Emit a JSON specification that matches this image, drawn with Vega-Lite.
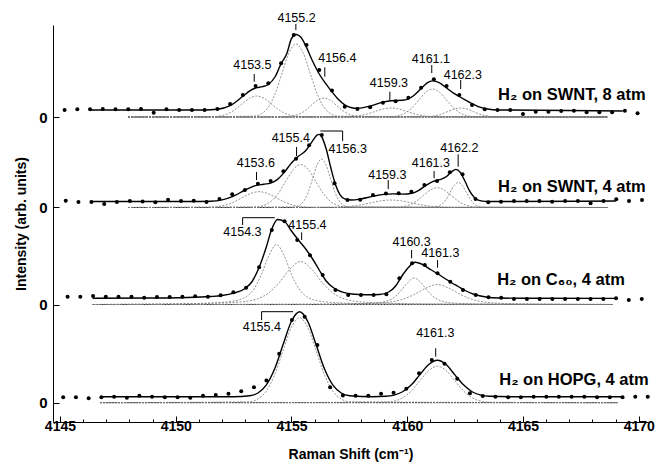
{
"$schema":"https://vega.github.io/schema/vega-lite/v6.json",
"width":595,"height":397,
"autosize":{"type":"none"},
"padding":{"left":53,"top":25,"right":17,"bottom":42},
"background":"white",
"config":{"view":{"stroke":null}},
"datasets":{
"dots":[
{"s":1,"x":4145.2,"y":312},{"s":1,"x":4145.75,"y":312.7},{"s":1,"x":4146.3,"y":312.7},{"s":1,"x":4146.85,"y":313},{"s":1,"x":4147.4,"y":312.7},{"s":1,"x":4147.95,"y":312.7},{"s":1,"x":4148.5,"y":313},{"s":1,"x":4149.05,"y":309.3},{"s":1,"x":4149.6,"y":312.7},{"s":1,"x":4150.15,"y":312},{"s":1,"x":4150.7,"y":312},{"s":1,"x":4151.25,"y":312},{"s":1,"x":4151.8,"y":313},{"s":1,"x":4152.35,"y":318},{"s":1,"x":4152.9,"y":327},{"s":1,"x":4153.45,"y":336},{"s":1,"x":4154.0,"y":338.7},{"s":1,"x":4154.55,"y":358.7},{"s":1,"x":4155.1,"y":387},{"s":1,"x":4155.65,"y":377},{"s":1,"x":4156.2,"y":352},{"s":1,"x":4156.75,"y":331.5},{"s":1,"x":4157.3,"y":315.3},{"s":1,"x":4157.85,"y":313},{"s":1,"x":4158.4,"y":314.7},{"s":1,"x":4158.95,"y":319.3},{"s":1,"x":4159.5,"y":320.7},{"s":1,"x":4160.05,"y":324.3},{"s":1,"x":4160.6,"y":334.3},{"s":1,"x":4161.15,"y":342.7},{"s":1,"x":4161.7,"y":336},{"s":1,"x":4162.25,"y":327},{"s":1,"x":4162.8,"y":317},{"s":1,"x":4163.35,"y":312.7},{"s":1,"x":4163.9,"y":312},{"s":1,"x":4164.45,"y":312},{"s":1,"x":4165.0,"y":308},{"s":1,"x":4165.55,"y":310.3},{"s":1,"x":4166.1,"y":310.3},{"s":1,"x":4166.65,"y":311},{"s":1,"x":4167.2,"y":311.3},{"s":1,"x":4167.75,"y":309.7},{"s":1,"x":4168.3,"y":309.7},{"s":1,"x":4168.85,"y":309.7},{"s":1,"x":4169.4,"y":311.3},{"s":1,"x":4169.95,"y":308.7},
{"s":2,"x":4145.25,"y":221.3},{"s":2,"x":4145.8,"y":220},{"s":2,"x":4146.36,"y":220},{"s":2,"x":4146.91,"y":218},{"s":2,"x":4147.46,"y":220},{"s":2,"x":4148.02,"y":221},{"s":2,"x":4148.57,"y":220.5},{"s":2,"x":4149.12,"y":219.7},{"s":2,"x":4149.67,"y":222.3},{"s":2,"x":4150.23,"y":221},{"s":2,"x":4150.78,"y":221.2},{"s":2,"x":4151.33,"y":220},{"s":2,"x":4151.89,"y":223},{"s":2,"x":4152.44,"y":227.7},{"s":2,"x":4152.99,"y":232},{"s":2,"x":4153.55,"y":238.3},{"s":2,"x":4154.1,"y":241},{"s":2,"x":4154.65,"y":250.7},{"s":2,"x":4155.2,"y":263.2},{"s":2,"x":4155.76,"y":276.7},{"s":2,"x":4156.31,"y":287},{"s":2,"x":4156.86,"y":238.7},{"s":2,"x":4157.42,"y":222},{"s":2,"x":4157.97,"y":222.3},{"s":2,"x":4158.52,"y":227},{"s":2,"x":4159.08,"y":228.5},{"s":2,"x":4159.63,"y":228.8},{"s":2,"x":4160.18,"y":230.3},{"s":2,"x":4160.74,"y":237},{"s":2,"x":4161.29,"y":241},{"s":2,"x":4161.84,"y":249.7},{"s":2,"x":4162.39,"y":247.7},{"s":2,"x":4162.95,"y":223},{"s":2,"x":4163.5,"y":219.7},{"s":2,"x":4164.05,"y":220.3},{"s":2,"x":4164.61,"y":221},{"s":2,"x":4165.16,"y":221},{"s":2,"x":4165.71,"y":221},{"s":2,"x":4166.26,"y":220.3},{"s":2,"x":4166.82,"y":221},{"s":2,"x":4167.37,"y":221},{"s":2,"x":4167.92,"y":218.7},{"s":2,"x":4168.48,"y":221},{"s":2,"x":4169.03,"y":222.7},{"s":2,"x":4169.58,"y":221},{"s":2,"x":4170.14,"y":222},
{"s":3,"x":4145.33,"y":125.3},{"s":3,"x":4145.88,"y":125.3},{"s":3,"x":4146.43,"y":126},{"s":3,"x":4146.98,"y":125.3},{"s":3,"x":4147.53,"y":125.3},{"s":3,"x":4148.09,"y":125.3},{"s":3,"x":4148.64,"y":124.3},{"s":3,"x":4149.19,"y":125},{"s":3,"x":4149.74,"y":125},{"s":3,"x":4150.29,"y":125.2},{"s":3,"x":4150.84,"y":125.7},{"s":3,"x":4151.39,"y":125.2},{"s":3,"x":4151.94,"y":126.8},{"s":3,"x":4152.49,"y":129.7},{"s":3,"x":4153.04,"y":134.3},{"s":3,"x":4153.6,"y":154.7},{"s":3,"x":4154.15,"y":192},{"s":3,"x":4154.7,"y":200.7},{"s":3,"x":4155.25,"y":182},{"s":3,"x":4155.8,"y":166.7},{"s":3,"x":4156.35,"y":147},{"s":3,"x":4156.9,"y":132},{"s":3,"x":4157.45,"y":127},{"s":3,"x":4158.0,"y":127},{"s":3,"x":4158.55,"y":127},{"s":3,"x":4159.1,"y":127.7},{"s":3,"x":4159.66,"y":143.7},{"s":3,"x":4160.21,"y":158.7},{"s":3,"x":4160.76,"y":157},{"s":3,"x":4161.31,"y":148.7},{"s":3,"x":4161.86,"y":140.3},{"s":3,"x":4162.41,"y":132},{"s":3,"x":4162.96,"y":127},{"s":3,"x":4163.51,"y":124.8},{"s":3,"x":4164.06,"y":124.3},{"s":3,"x":4164.61,"y":123},{"s":3,"x":4165.17,"y":123},{"s":3,"x":4165.72,"y":123},{"s":3,"x":4166.27,"y":123},{"s":3,"x":4166.82,"y":123},{"s":3,"x":4167.37,"y":123},{"s":3,"x":4167.92,"y":123},{"s":3,"x":4168.47,"y":123},{"s":3,"x":4169.02,"y":123.7},{"s":3,"x":4169.57,"y":122},{"s":3,"x":4170.13,"y":123},
{"s":4,"x":4145.14,"y":24.7},{"s":4,"x":4145.69,"y":24.7},{"s":4,"x":4146.24,"y":23.7},{"s":4,"x":4146.79,"y":24.7},{"s":4,"x":4147.34,"y":25.3},{"s":4,"x":4147.89,"y":24.3},{"s":4,"x":4148.43,"y":26.3},{"s":4,"x":4148.98,"y":25.3},{"s":4,"x":4149.53,"y":24.7},{"s":4,"x":4150.08,"y":24.7},{"s":4,"x":4150.63,"y":24.3},{"s":4,"x":4151.18,"y":26.3},{"s":4,"x":4151.73,"y":27},{"s":4,"x":4152.28,"y":28.2},{"s":4,"x":4152.83,"y":30.7},{"s":4,"x":4153.38,"y":34.7},{"s":4,"x":4153.92,"y":41.5},{"s":4,"x":4154.47,"y":68.3},{"s":4,"x":4155.02,"y":102},{"s":4,"x":4155.57,"y":105.3},{"s":4,"x":4156.12,"y":77},{"s":4,"x":4156.67,"y":34.7},{"s":4,"x":4157.22,"y":26.5},{"s":4,"x":4157.77,"y":26.2},{"s":4,"x":4158.32,"y":26.2},{"s":4,"x":4158.87,"y":28.2},{"s":4,"x":4159.41,"y":29.3},{"s":4,"x":4159.96,"y":33.3},{"s":4,"x":4160.51,"y":48.7},{"s":4,"x":4161.06,"y":62},{"s":4,"x":4161.61,"y":58.2},{"s":4,"x":4162.16,"y":43.3},{"s":4,"x":4162.71,"y":28.7},{"s":4,"x":4163.26,"y":26},{"s":4,"x":4163.81,"y":25.3},{"s":4,"x":4164.36,"y":24.7},{"s":4,"x":4164.91,"y":24.7},{"s":4,"x":4165.46,"y":25.3},{"s":4,"x":4166.01,"y":25.3},{"s":4,"x":4166.55,"y":25.3},{"s":4,"x":4167.1,"y":25.3},{"s":4,"x":4167.65,"y":25.3},{"s":4,"x":4168.2,"y":24.7},{"s":4,"x":4168.75,"y":24.7},{"s":4,"x":4169.3,"y":24.7},{"s":4,"x":4169.85,"y":25.3},{"s":4,"x":4170.39,"y":25.3}
],
"fit":[
{"s":1,"x":4146.3,"y":312},{"s":1,"x":4151.25,"y":312},{"s":1,"x":4151.8,"y":312.7},{"s":1,"x":4152.35,"y":316.4},{"s":1,"x":4152.9,"y":325.7},{"s":1,"x":4153.2,"y":331.2},{"s":1,"x":4153.45,"y":334},{"s":1,"x":4153.75,"y":335.4},{"s":1,"x":4154.0,"y":337.5},{"s":1,"x":4154.3,"y":345.5},{"s":1,"x":4154.55,"y":358.3},{"s":1,"x":4154.8,"y":368.5},{"s":1,"x":4155.0,"y":383.3},{"s":1,"x":4155.2,"y":387.5},{"s":1,"x":4155.4,"y":385},{"s":1,"x":4155.65,"y":374.6},{"s":1,"x":4155.9,"y":361.5},{"s":1,"x":4156.2,"y":348},{"s":1,"x":4156.45,"y":339.3},{"s":1,"x":4156.75,"y":330.1},{"s":1,"x":4157.0,"y":323.3},{"s":1,"x":4157.3,"y":317.2},{"s":1,"x":4157.6,"y":314.3},{"s":1,"x":4157.85,"y":313.7},{"s":1,"x":4158.4,"y":315.9},{"s":1,"x":4158.95,"y":319.9},{"s":1,"x":4159.3,"y":321.3},{"s":1,"x":4159.8,"y":321.7},{"s":1,"x":4160.05,"y":323.1},{"s":1,"x":4160.3,"y":326.7},{"s":1,"x":4160.6,"y":333.4},{"s":1,"x":4160.85,"y":338.8},{"s":1,"x":4161.1,"y":341.1},{"s":1,"x":4161.4,"y":339.1},{"s":1,"x":4161.7,"y":334},{"s":1,"x":4162.0,"y":328.9},{"s":1,"x":4162.25,"y":325.5},{"s":1,"x":4162.5,"y":322.2},{"s":1,"x":4162.8,"y":318.4},{"s":1,"x":4163.1,"y":315.1},{"s":1,"x":4163.35,"y":313.5},{"s":1,"x":4163.7,"y":312.3},{"s":1,"x":4164.5,"y":312},{"s":1,"x":4169.31,"y":311},
{"s":2,"x":4146.3,"y":220.5},{"s":2,"x":4150.5,"y":220.5},{"s":2,"x":4151.5,"y":220.8},{"s":2,"x":4152.0,"y":222.1},{"s":2,"x":4152.5,"y":225.9},{"s":2,"x":4153.0,"y":232},{"s":2,"x":4153.4,"y":236.1},{"s":2,"x":4153.8,"y":237.8},{"s":2,"x":4154.1,"y":238.9},{"s":2,"x":4154.4,"y":242.6},{"s":2,"x":4154.7,"y":250},{"s":2,"x":4155.0,"y":259},{"s":2,"x":4155.3,"y":265.7},{"s":2,"x":4155.6,"y":270.9},{"s":2,"x":4155.9,"y":280.6},{"s":2,"x":4156.1,"y":286.8},{"s":2,"x":4156.2,"y":287.6},{"s":2,"x":4156.3,"y":285.5},{"s":2,"x":4156.5,"y":273},{"s":2,"x":4156.7,"y":254.2},{"s":2,"x":4156.9,"y":237.5},{"s":2,"x":4157.1,"y":227.2},{"s":2,"x":4157.3,"y":223.2},{"s":2,"x":4157.6,"y":222},{"s":2,"x":4158.0,"y":223.1},{"s":2,"x":4158.5,"y":225.6},{"s":2,"x":4159.0,"y":227.6},{"s":2,"x":4159.4,"y":228.1},{"s":2,"x":4159.8,"y":227.9},{"s":2,"x":4160.2,"y":228.8},{"s":2,"x":4160.5,"y":231.7},{"s":2,"x":4160.8,"y":236.4},{"s":2,"x":4161.1,"y":240.4},{"s":2,"x":4161.4,"y":242.3},{"s":2,"x":4161.7,"y":245.5},{"s":2,"x":4161.9,"y":249.8},{"s":2,"x":4162.1,"y":252.6},{"s":2,"x":4162.3,"y":249.4},{"s":2,"x":4162.5,"y":240.5},{"s":2,"x":4162.7,"y":230.8},{"s":2,"x":4162.9,"y":224.5},{"s":2,"x":4163.1,"y":221.6},{"s":2,"x":4163.4,"y":220.6},{"s":2,"x":4164.0,"y":220.5},{"s":2,"x":4169.01,"y":221},
{"s":3,"x":4146.41,"y":123.8},{"s":3,"x":4149.0,"y":124},{"s":3,"x":4150.5,"y":124.5},{"s":3,"x":4151.5,"y":125.5},{"s":3,"x":4152.0,"y":126.5},{"s":3,"x":4152.5,"y":128.8},{"s":3,"x":4153.0,"y":133.5},{"s":3,"x":4153.3,"y":140.5},{"s":3,"x":4153.6,"y":154.5},{"s":3,"x":4153.9,"y":174},{"s":3,"x":4154.15,"y":193},{"s":3,"x":4154.4,"y":202.5},{"s":3,"x":4154.7,"y":200.5},{"s":3,"x":4155.0,"y":191},{"s":3,"x":4155.3,"y":182},{"s":3,"x":4155.6,"y":173.5},{"s":3,"x":4155.9,"y":163.5},{"s":3,"x":4156.2,"y":152},{"s":3,"x":4156.5,"y":141},{"s":3,"x":4156.8,"y":134.5},{"s":3,"x":4157.2,"y":129.8},{"s":3,"x":4157.6,"y":128},{"s":3,"x":4158.2,"y":127.3},{"s":3,"x":4158.8,"y":127.5},{"s":3,"x":4159.2,"y":130},{"s":3,"x":4159.5,"y":136},{"s":3,"x":4159.8,"y":147},{"s":3,"x":4160.05,"y":154.5},{"s":3,"x":4160.35,"y":159.7},{"s":3,"x":4160.7,"y":157},{"s":3,"x":4161.0,"y":152.5},{"s":3,"x":4161.3,"y":148.5},{"s":3,"x":4161.6,"y":144},{"s":3,"x":4161.9,"y":139.5},{"s":3,"x":4162.2,"y":135.5},{"s":3,"x":4162.5,"y":131.5},{"s":3,"x":4162.9,"y":127.5},{"s":3,"x":4163.4,"y":125},{"s":3,"x":4164.0,"y":124},{"s":3,"x":4165.0,"y":123.7},{"s":3,"x":4168.96,"y":123.6},
{"s":4,"x":4146.8,"y":25.3},{"s":4,"x":4152.5,"y":25.3},{"s":4,"x":4153.19,"y":26.2},{"s":4,"x":4153.55,"y":29.0},{"s":4,"x":4153.91,"y":36.8},{"s":4,"x":4154.27,"y":52.9},{"s":4,"x":4154.63,"y":76.9},{"s":4,"x":4154.99,"y":100.3},{"s":4,"x":4155.35,"y":110.3},{"s":4,"x":4155.71,"y":100.3},{"s":4,"x":4156.07,"y":76.9},{"s":4,"x":4156.43,"y":52.9},{"s":4,"x":4156.79,"y":36.8},{"s":4,"x":4157.15,"y":29.0},{"s":4,"x":4157.51,"y":26.2},{"s":4,"x":4158.5,"y":25.3},{"s":4,"x":4159.05,"y":25.7},{"s":4,"x":4159.43,"y":26.9},{"s":4,"x":4159.8,"y":30.24},{"s":4,"x":4160.18,"y":37.15},{"s":4,"x":4160.55,"y":47.4},{"s":4,"x":4160.93,"y":57.5},{"s":4,"x":4161.3,"y":61.8},{"s":4,"x":4161.68,"y":57.5},{"s":4,"x":4162.05,"y":47.4},{"s":4,"x":4162.43,"y":37.15},{"s":4,"x":4162.8,"y":30.24},{"s":4,"x":4163.18,"y":26.9},{"s":4,"x":4163.55,"y":25.7},{"s":4,"x":4164.5,"y":25.3},{"s":4,"x":4169.25,"y":25.3}
],
"comp":[
{"c":"1A","x":4147.94,"y":305},{"c":"1A","x":4151.55,"y":305.23},{"c":"1A","x":4151.88,"y":305.92},{"c":"1A","x":4152.2,"y":307.84},{"c":"1A","x":4152.53,"y":311.82},{"c":"1A","x":4152.85,"y":317.74},{"c":"1A","x":4153.18,"y":323.53},{"c":"1A","x":4153.5,"y":326},{"c":"1A","x":4153.83,"y":323.53},{"c":"1A","x":4154.15,"y":317.74},{"c":"1A","x":4154.48,"y":311.82},{"c":"1A","x":4154.8,"y":307.84},{"c":"1A","x":4155.13,"y":305.92},{"c":"1A","x":4155.45,"y":305.23},{"c":"1A","x":4168.66,"y":305},
{"c":"1B","x":4147.94,"y":305},{"c":"1B","x":4153.4,"y":305.81},{"c":"1B","x":4153.7,"y":308.2},{"c":"1B","x":4154.0,"y":314.88},{"c":"1B","x":4154.3,"y":328.7},{"c":"1B","x":4154.6,"y":349.27},{"c":"1B","x":4154.9,"y":369.42},{"c":"1B","x":4155.2,"y":378},{"c":"1B","x":4155.5,"y":369.42},{"c":"1B","x":4155.8,"y":349.27},{"c":"1B","x":4156.1,"y":328.7},{"c":"1B","x":4156.4,"y":314.88},{"c":"1B","x":4156.7,"y":308.2},{"c":"1B","x":4157.0,"y":305.81},{"c":"1B","x":4168.66,"y":305},
{"c":"1C","x":4147.94,"y":305},{"c":"1C","x":4154.75,"y":305.21},{"c":"1C","x":4155.03,"y":305.83},{"c":"1C","x":4155.3,"y":307.57},{"c":"1C","x":4155.58,"y":311.17},{"c":"1C","x":4155.85,"y":316.52},{"c":"1C","x":4156.13,"y":321.77},{"c":"1C","x":4156.4,"y":324},{"c":"1C","x":4156.68,"y":321.77},{"c":"1C","x":4156.95,"y":316.52},{"c":"1C","x":4157.23,"y":311.17},{"c":"1C","x":4157.5,"y":307.57},{"c":"1C","x":4157.78,"y":305.83},{"c":"1C","x":4158.05,"y":305.21},{"c":"1C","x":4168.66,"y":305},
{"c":"1D","x":4147.94,"y":305},{"c":"1D","x":4157.2,"y":305.1},{"c":"1D","x":4157.55,"y":305.4},{"c":"1D","x":4157.9,"y":306.22},{"c":"1D","x":4158.25,"y":307.92},{"c":"1D","x":4158.6,"y":310.46},{"c":"1D","x":4158.95,"y":312.94},{"c":"1D","x":4159.3,"y":314},{"c":"1D","x":4159.65,"y":312.94},{"c":"1D","x":4160.0,"y":310.46},{"c":"1D","x":4160.35,"y":307.92},{"c":"1D","x":4160.7,"y":306.22},{"c":"1D","x":4161.05,"y":305.4},{"c":"1D","x":4161.4,"y":305.1},{"c":"1D","x":4168.66,"y":305},
{"c":"1E","x":4147.94,"y":305},{"c":"1E","x":4159.3,"y":305.31},{"c":"1E","x":4159.6,"y":306.23},{"c":"1E","x":4159.9,"y":308.79},{"c":"1E","x":4160.2,"y":314.09},{"c":"1E","x":4160.5,"y":321.98},{"c":"1E","x":4160.8,"y":329.71},{"c":"1E","x":4161.1,"y":333},{"c":"1E","x":4161.4,"y":329.71},{"c":"1E","x":4161.7,"y":321.98},{"c":"1E","x":4162.0,"y":314.09},{"c":"1E","x":4162.3,"y":308.79},{"c":"1E","x":4162.6,"y":306.23},{"c":"1E","x":4162.9,"y":305.31},{"c":"1E","x":4168.66,"y":305},
{"c":"1F","x":4147.94,"y":305},{"c":"1F","x":4160.65,"y":305.1},{"c":"1F","x":4160.93,"y":305.4},{"c":"1F","x":4161.2,"y":306.22},{"c":"1F","x":4161.48,"y":307.92},{"c":"1F","x":4161.75,"y":310.46},{"c":"1F","x":4162.03,"y":312.94},{"c":"1F","x":4162.3,"y":314},{"c":"1F","x":4162.58,"y":312.94},{"c":"1F","x":4162.85,"y":310.46},{"c":"1F","x":4163.13,"y":307.92},{"c":"1F","x":4163.4,"y":306.22},{"c":"1F","x":4163.68,"y":305.4},{"c":"1F","x":4163.95,"y":305.1},{"c":"1F","x":4168.66,"y":305},
{"c":"2A","x":4147.94,"y":214.5},{"c":"2A","x":4151.35,"y":214.68},{"c":"2A","x":4151.73,"y":215.19},{"c":"2A","x":4152.1,"y":216.64},{"c":"2A","x":4152.48,"y":219.63},{"c":"2A","x":4152.85,"y":224.08},{"c":"2A","x":4153.23,"y":228.44},{"c":"2A","x":4153.6,"y":230.3},{"c":"2A","x":4153.98,"y":228.44},{"c":"2A","x":4154.35,"y":224.08},{"c":"2A","x":4154.73,"y":219.63},{"c":"2A","x":4155.1,"y":216.64},{"c":"2A","x":4155.48,"y":215.19},{"c":"2A","x":4155.85,"y":214.68},{"c":"2A","x":4168.66,"y":214.5},
{"c":"2B","x":4147.94,"y":214.5},{"c":"2B","x":4153.45,"y":214.98},{"c":"2B","x":4153.78,"y":216.39},{"c":"2B","x":4154.1,"y":220.32},{"c":"2B","x":4154.43,"y":228.46},{"c":"2B","x":4154.75,"y":240.58},{"c":"2B","x":4155.08,"y":252.45},{"c":"2B","x":4155.4,"y":257.5},{"c":"2B","x":4155.73,"y":252.45},{"c":"2B","x":4156.05,"y":240.58},{"c":"2B","x":4156.38,"y":228.46},{"c":"2B","x":4156.7,"y":220.32},{"c":"2B","x":4157.03,"y":216.39},{"c":"2B","x":4157.35,"y":214.98},{"c":"2B","x":4168.66,"y":214.5},
{"c":"2C","x":4147.94,"y":214.5},{"c":"2C","x":4155.16,"y":215.04},{"c":"2C","x":4155.35,"y":216.63},{"c":"2C","x":4155.54,"y":221.06},{"c":"2C","x":4155.73,"y":230.25},{"c":"2C","x":4155.92,"y":243.92},{"c":"2C","x":4156.11,"y":257.3},{"c":"2C","x":4156.3,"y":263},{"c":"2C","x":4156.49,"y":257.3},{"c":"2C","x":4156.68,"y":243.92},{"c":"2C","x":4156.87,"y":230.25},{"c":"2C","x":4157.06,"y":221.06},{"c":"2C","x":4157.25,"y":216.63},{"c":"2C","x":4157.44,"y":215.04},{"c":"2C","x":4168.66,"y":214.5},
{"c":"2D","x":4147.94,"y":214.5},{"c":"2D","x":4156.6,"y":214.58},{"c":"2D","x":4157.05,"y":214.83},{"c":"2D","x":4157.5,"y":215.51},{"c":"2D","x":4157.95,"y":216.94},{"c":"2D","x":4158.4,"y":219.05},{"c":"2D","x":4158.85,"y":221.12},{"c":"2D","x":4159.3,"y":222},{"c":"2D","x":4159.75,"y":221.12},{"c":"2D","x":4160.2,"y":219.05},{"c":"2D","x":4160.65,"y":216.94},{"c":"2D","x":4161.1,"y":215.51},{"c":"2D","x":4161.55,"y":214.83},{"c":"2D","x":4162.0,"y":214.58},{"c":"2D","x":4168.66,"y":214.5},
{"c":"2E","x":4147.94,"y":214.5},{"c":"2E","x":4159.5,"y":214.72},{"c":"2E","x":4159.8,"y":215.37},{"c":"2E","x":4160.1,"y":217.18},{"c":"2E","x":4160.4,"y":220.93},{"c":"2E","x":4160.7,"y":226.51},{"c":"2E","x":4161.0,"y":231.97},{"c":"2E","x":4161.3,"y":234.3},{"c":"2E","x":4161.6,"y":231.97},{"c":"2E","x":4161.9,"y":226.51},{"c":"2E","x":4162.2,"y":220.93},{"c":"2E","x":4162.5,"y":217.18},{"c":"2E","x":4162.8,"y":215.37},{"c":"2E","x":4163.1,"y":214.72},{"c":"2E","x":4168.66,"y":214.5},
{"c":"2F","x":4147.94,"y":214.5},{"c":"2F","x":4161.15,"y":214.78},{"c":"2F","x":4161.33,"y":215.6},{"c":"2F","x":4161.5,"y":217.88},{"c":"2F","x":4161.68,"y":222.62},{"c":"2F","x":4161.85,"y":229.66},{"c":"2F","x":4162.03,"y":236.56},{"c":"2F","x":4162.2,"y":239.5},{"c":"2F","x":4162.38,"y":236.56},{"c":"2F","x":4162.55,"y":229.66},{"c":"2F","x":4162.73,"y":222.62},{"c":"2F","x":4162.9,"y":217.88},{"c":"2F","x":4163.08,"y":215.6},{"c":"2F","x":4163.25,"y":214.78},{"c":"2F","x":4168.66,"y":214.5},
{"c":"3A","x":4146.41,"y":117.5},{"c":"3A","x":4149.8,"y":118.1},{"c":"3A","x":4151.1,"y":118.6},{"c":"3A","x":4151.75,"y":119.3},{"c":"3A","x":4152.4,"y":120.6},{"c":"3A","x":4152.73,"y":122},{"c":"3A","x":4153.05,"y":125.4},{"c":"3A","x":4153.38,"y":133},{"c":"3A","x":4153.7,"y":147.5},{"c":"3A","x":4154.03,"y":166.7},{"c":"3A","x":4154.35,"y":177.5},{"c":"3A","x":4154.68,"y":166.7},{"c":"3A","x":4155.0,"y":147.5},{"c":"3A","x":4155.33,"y":133},{"c":"3A","x":4155.65,"y":125.4},{"c":"3A","x":4155.98,"y":122},{"c":"3A","x":4156.3,"y":120.6},{"c":"3A","x":4156.95,"y":119.3},{"c":"3A","x":4157.6,"y":118.6},{"c":"3A","x":4158.9,"y":118.1},{"c":"3A","x":4168.88,"y":117.5},
{"c":"3B","x":4146.41,"y":117.5},{"c":"3B","x":4148.82,"y":117.9},{"c":"3B","x":4150.7,"y":118.3},{"c":"3B","x":4151.64,"y":118.8},{"c":"3B","x":4152.58,"y":119.7},{"c":"3B","x":4153.05,"y":120.7},{"c":"3B","x":4153.52,"y":123.1},{"c":"3B","x":4153.99,"y":128.6},{"c":"3B","x":4154.46,"y":139},{"c":"3B","x":4154.93,"y":152.8},{"c":"3B","x":4155.4,"y":160.5},{"c":"3B","x":4155.87,"y":152.8},{"c":"3B","x":4156.34,"y":139},{"c":"3B","x":4156.81,"y":128.6},{"c":"3B","x":4157.28,"y":123.1},{"c":"3B","x":4157.75,"y":120.7},{"c":"3B","x":4158.22,"y":119.7},{"c":"3B","x":4159.16,"y":118.8},{"c":"3B","x":4160.1,"y":118.3},{"c":"3B","x":4161.98,"y":117.9},{"c":"3B","x":4168.88,"y":117.5},
{"c":"3C","x":4146.41,"y":117.5},{"c":"3C","x":4156.17,"y":117.8},{"c":"3C","x":4157.35,"y":118},{"c":"3C","x":4157.94,"y":118.3},{"c":"3C","x":4158.53,"y":118.85},{"c":"3C","x":4158.83,"y":119.5},{"c":"3C","x":4159.12,"y":121},{"c":"3C","x":4159.42,"y":124.4},{"c":"3C","x":4159.71,"y":130.75},{"c":"3C","x":4160.01,"y":139.2},{"c":"3C","x":4160.3,"y":144},{"c":"3C","x":4160.6,"y":139.2},{"c":"3C","x":4160.89,"y":130.75},{"c":"3C","x":4161.19,"y":124.4},{"c":"3C","x":4161.48,"y":121},{"c":"3C","x":4161.78,"y":119.5},{"c":"3C","x":4162.07,"y":118.85},{"c":"3C","x":4162.66,"y":118.3},{"c":"3C","x":4163.25,"y":118},{"c":"3C","x":4164.43,"y":117.8},{"c":"3C","x":4168.88,"y":117.5},
{"c":"3D","x":4146.41,"y":117.5},{"c":"3D","x":4154.3,"y":117.7},{"c":"3D","x":4156.3,"y":117.9},{"c":"3D","x":4157.3,"y":118.1},{"c":"3D","x":4158.3,"y":118.5},{"c":"3D","x":4158.8,"y":119},{"c":"3D","x":4159.3,"y":120.1},{"c":"3D","x":4159.8,"y":122.7},{"c":"3D","x":4160.3,"y":127.5},{"c":"3D","x":4160.8,"y":133.9},{"c":"3D","x":4161.3,"y":137.5},{"c":"3D","x":4161.8,"y":133.9},{"c":"3D","x":4162.3,"y":127.5},{"c":"3D","x":4162.8,"y":122.7},{"c":"3D","x":4163.3,"y":120.1},{"c":"3D","x":4163.8,"y":119},{"c":"3D","x":4164.3,"y":118.5},{"c":"3D","x":4165.3,"y":118.1},{"c":"3D","x":4166.3,"y":117.9},{"c":"3D","x":4168.3,"y":117.7},{"c":"3D","x":4168.88,"y":117.5},
{"c":"4M","x":4146.73,"y":19.3},{"c":"4M","x":4153.19,"y":20.24},{"c":"4M","x":4153.55,"y":23.03},{"c":"4M","x":4153.91,"y":30.8},{"c":"4M","x":4154.27,"y":46.9},{"c":"4M","x":4154.63,"y":70.9},{"c":"4M","x":4154.99,"y":94.3},{"c":"4M","x":4155.35,"y":104.3},{"c":"4M","x":4155.71,"y":94.3},{"c":"4M","x":4156.07,"y":70.9},{"c":"4M","x":4156.43,"y":46.9},{"c":"4M","x":4156.79,"y":30.8},{"c":"4M","x":4157.15,"y":23.03},{"c":"4M","x":4157.51,"y":20.24},{"c":"4M","x":4169.09,"y":19.3},
{"c":"4N","x":4146.73,"y":19.3},{"c":"4N","x":4159.05,"y":19.71},{"c":"4N","x":4159.43,"y":20.9},{"c":"4N","x":4159.8,"y":24.24},{"c":"4N","x":4160.18,"y":31.15},{"c":"4N","x":4160.55,"y":41.4},{"c":"4N","x":4160.93,"y":51.5},{"c":"4N","x":4161.3,"y":55.8},{"c":"4N","x":4161.68,"y":51.5},{"c":"4N","x":4162.05,"y":41.4},{"c":"4N","x":4162.43,"y":31.15},{"c":"4N","x":4162.8,"y":24.24},{"c":"4N","x":4163.18,"y":20.9},{"c":"4N","x":4163.55,"y":19.71},{"c":"4N","x":4169.09,"y":19.3}
],
"base":[
{"s":1,"x":4147.94,"x2":4168.66,"y":305},{"s":2,"x":4147.94,"x2":4168.66,"y":214.5},{"s":3,"x":4146.41,"x2":4168.88,"y":117.5},{"s":4,"x":4146.73,"x2":4169.09,"y":19.3}
],
"pticks":[
{"x":4153.39,"y":348,"y2":340.3},{"x":4155.19,"y":398,"y2":392},{"x":4156.44,"y":354.7,"y2":345.3},{"x":4159.25,"y":330.3,"y2":322},{"x":4161.06,"y":357,"y2":349},{"x":4162.31,"y":342,"y2":333},
{"x":4153.49,"y":250,"y2":242},{"x":4155.22,"y":275,"y2":266},{"x":4159.18,"y":242,"y2":233},{"x":4161.16,"y":251,"y2":243.7},{"x":4162.2,"y":267.7,"y2":255.3},
{"x":4155.44,"y":189.7,"y2":182},{"x":4160.19,"y":172,"y2":163.7},{"x":4161.31,"y":162,"y2":154.3},
{"x":4161.23,"y":73.7,"y2":65.3}
],
"brackets":[
{"g":"b2","o":1,"x":4156.25,"y":291},{"g":"b2","o":2,"x":4157.21,"y":291},{"g":"b2","o":3,"x":4157.21,"y":281},
{"g":"b3","o":1,"x":4152.89,"y":197},{"g":"b3","o":2,"x":4152.89,"y":204.3},{"g":"b3","o":3,"x":4154.28,"y":204.3},
{"g":"b4","o":1,"x":4153.71,"y":102},{"g":"b4","o":2,"x":4153.71,"y":110.3},{"g":"b4","o":3,"x":4155.07,"y":110.3}
],
"plabels":[
{"t":"4153.5","x":4153.31,"y":357},{"t":"4155.2","x":4155.22,"y":403.7},{"t":"4156.4","x":4156.98,"y":363.7},{"t":"4159.3","x":4159.21,"y":339.3},{"t":"4161.1","x":4161.02,"y":363},{"t":"4162.3","x":4162.4,"y":347.5},
{"t":"4153.6","x":4153.46,"y":258.7},{"t":"4155.4","x":4154.97,"y":284.2},{"t":"4156.3","x":4157.43,"y":273.3},{"t":"4159.3","x":4159.14,"y":247},{"t":"4161.3","x":4161.02,"y":258.7},{"t":"4162.2","x":4162.25,"y":273.7},
{"t":"4154.3","x":4152.88,"y":190},{"t":"4155.4","x":4155.69,"y":197},{"t":"4160.3","x":4160.19,"y":180.3},{"t":"4161.3","x":4161.43,"y":168.7},
{"t":"4155.4","x":4153.72,"y":95.3},{"t":"4161.3","x":4161.21,"y":88.7}
],
"legend":[
{"t":"H₂ on SWNT, 8 atm","x":4170.3,"y":322},{"t":"H₂ on SWNT, 4 atm","x":4170.3,"y":230},{"t":"H₂ on C₆₀, 4 atm","x":4169.4,"y":137},{"t":"H₂ on HOPG, 4 atm","x":4170.43,"y":37}
]
},
"encoding":{
"x":{"field":"x","type":"quantitative","scale":{"domain":[4144.7,4170.4],"nice":false,"zero":false},
"axis":{"title":"Raman Shift (cm⁻¹)","values":[4145,4146,4147,4148,4149,4150,4151,4152,4153,4154,4155,4156,4157,4158,4159,4160,4161,4162,4163,4164,4165,4166,4167,4168,4169,4170],"format":"d","labelExpr":"datum.value % 5 === 0 ? datum.label : ''","tickSize":{"condition":{"test":"datum.value % 5 === 0","value":-6},"value":-3},"labelPadding":3,"grid":false,"domainColor":"black","tickColor":"black","labelColor":"black","labelFont":"Liberation Sans","labelFontWeight":"bold","labelFontSize":14,"labelFlush":false,"labelOverlap":false,"titleFont":"Liberation Sans","titleFontWeight":"bold","titleFontSize":14,"titleColor":"black","titlePadding":11}},
"y":{"field":"y","type":"quantitative","scale":{"domain":[0,397],"nice":false,"zero":false},
"axis":{"title":"Intensity (arb. units)","values":[305,214.5,117.5,19.3],"labelExpr":"'0'","tickSize":-6,"labelPadding":12,"grid":false,"domainColor":"black","tickColor":"black","labelColor":"black","labelFont":"Liberation Sans","labelFontWeight":"bold","labelFontSize":15,"titleFont":"Liberation Sans","titleFontWeight":"bold","titleFontSize":14,"titleColor":"black","titlePadding":10}}
},
"layer":[
{"data":{"name":"base"},"mark":{"type":"rule","color":"#333","strokeWidth":1,"strokeDash":[2,1]},"encoding":{"x2":{"field":"x2"}}},
{"data":{"name":"comp"},"mark":{"type":"line","color":"#777","strokeWidth":0.8,"strokeDash":[2,1.5],"interpolate":"monotone"},"encoding":{"detail":{"field":"c"}}},
{"data":{"name":"fit"},"mark":{"type":"line","color":"black","strokeWidth":1.4,"interpolate":"monotone"},"encoding":{"detail":{"field":"s"}}},
{"data":{"name":"dots"},"mark":{"type":"point","filled":true,"color":"black","size":16,"opacity":1},"encoding":{"detail":{"field":"s"}}},
{"data":{"name":"pticks"},"mark":{"type":"rule","color":"black","strokeWidth":1},"encoding":{"y2":{"field":"y2"}}},
{"data":{"name":"brackets"},"mark":{"type":"line","color":"black","strokeWidth":1},"encoding":{"detail":{"field":"g"},"order":{"field":"o"}}},
{"data":{"name":"plabels"},"mark":{"type":"text","font":"Liberation Sans","fontSize":12.5,"color":"black","align":"center","baseline":"middle"},"encoding":{"text":{"field":"t"}}},
{"data":{"name":"legend"},"mark":{"type":"text","font":"Liberation Sans","fontWeight":"bold","fontSize":16.5,"color":"black","align":"right","baseline":"alphabetic"},"encoding":{"text":{"field":"t"}}}
]
}
